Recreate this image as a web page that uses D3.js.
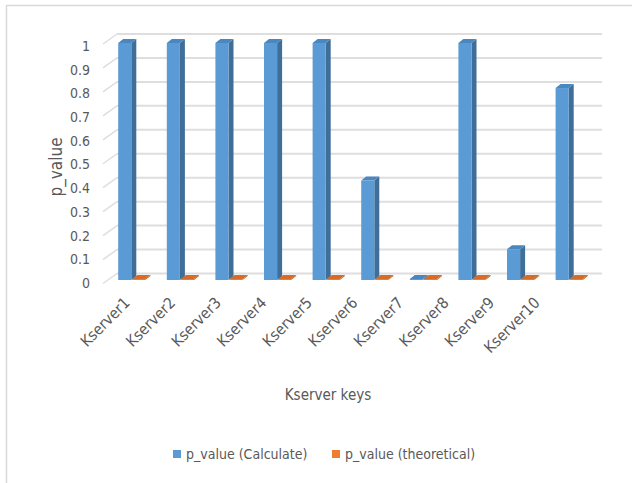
<!DOCTYPE html>
<html>
<head>
<meta charset="utf-8">
<script src="https://cdn.jsdelivr.net/npm/d3@7"></script>
<style>
	body { margin: 0; background: #fff; }
	svg text { font-family: "Liberation Sans Narrow", "DejaVu Sans Condensed", "Open Sans", sans-serif; fill: #595959; }
</style>
</head>
<body>
<div id="chart"></div>
<script>
const categories = ['Kserver1', 'Kserver2', 'Kserver3', 'Kserver4', 'Kserver5',
	'Kserver6', 'Kserver7', 'Kserver8', 'Kserver9', 'Kserver10'];
const calculated = [1, 1, 1, 1, 1, 0.42, 0, 1, 0.13, 0.81];
const theoretical = [0, 0, 0, 0, 0, 0, 0, 0, 0, 0];
const seriesNames = ['p_value (Calculate)', 'p_value (theoretical)'];
const yTicks = [0, 0.1, 0.2, 0.3, 0.4, 0.5, 0.6, 0.7, 0.8, 0.9, 1];

const palette = [
	{ front: '#5b9bd5', side: '#3f6e99', top: '#4a86c0' },
	{ front: '#ed7d31', side: '#b35c1f', top: '#d96c24' }
];

const width = 632, height = 483;
const depthX = 5, depthY = 4;      // bar depth
const wallX = 14, wallY = 10;      // back wall offset

const svg = d3.select('#chart').append('svg')
	.attr('width', width)
	.attr('height', height);

// chart frame (left and top edges only are visible)
svg.append('path')
	.attr('d', 'M6.5,483 L6.5,5.5 L632,5.5')
	.attr('fill', 'none')
	.attr('stroke', '#d9d9d9')
	.attr('stroke-width', 1.5);

const x = d3.scaleBand()
	.domain(categories)
	.range([108, 594])
	.paddingInner(0.42)
	.paddingOuter(0.21);

const xs = d3.scaleBand()
	.domain(seriesNames)
	.range([0, x.bandwidth()]);

const y = d3.scaleLinear().domain([0, 1]).range([280, 43]);
const yBack = d3.scaleLinear().domain([0, 1]).range([273.5, 34]);

// label positions along the front edge of the floor
const xLabel = d3.scalePoint().domain(categories).range([127, 537]);

// gridlines on the back wall + side wall diagonals
const grid = svg.append('g');
yTicks.forEach(t => {
	grid.append('line')
		.attr('x1', 117).attr('x2', 602)
		.attr('y1', yBack(t)).attr('y2', yBack(t))
		.attr('stroke', '#dedede')
		.attr('stroke-width', 2);
	grid.append('line')
		.attr('x1', 117 - wallX).attr('y1', yBack(t) + wallY)
		.attr('x2', 117).attr('y2', yBack(t))
		.attr('stroke', '#dedede')
		.attr('stroke-width', 1.5);
});

// y axis tick labels
svg.append('g').selectAll('text')
	.data(yTicks)
	.enter().append('text')
	.attr('x', 90)
	.attr('y', d => y(d) + 3)
	.attr('dy', '0.35em')
	.attr('text-anchor', 'end')
	.attr('font-size', 14)
	.text(d => d);

svg.append('text')
	.attr('transform', 'translate(56,167) rotate(-90)')
	.attr('text-anchor', 'middle')
	.attr('dy', '0.35em')
	.attr('font-size', 17)
	.text('p_value');

// 3D-ish bars
function drawBar(g, bx, v, w, col) {
	const top = Math.min(y(v), y(0) - 1);
	const bottom = y(0);
	g.append('polygon')
		.attr('points', [[bx + w, top], [bx + w + depthX, top - depthY], [bx + w + depthX, bottom - depthY], [bx + w, bottom]].join(' '))
		.attr('fill', col.side);
	g.append('polygon')
		.attr('points', [[bx, top], [bx + depthX, top - depthY], [bx + w + depthX, top - depthY], [bx + w, top]].join(' '))
		.attr('fill', col.top);
	g.append('rect')
		.attr('x', bx).attr('y', top)
		.attr('width', w).attr('height', bottom - top)
		.attr('fill', col.front);
}

const bars = svg.append('g');
categories.forEach((c, i) => {
	const w = xs.bandwidth() - 1;
	// draw the back (orange) series first so the blue side face is on top
	drawBar(bars, x(c) + xs(seriesNames[1]), theoretical[i], w, palette[1]);
	drawBar(bars, x(c) + xs(seriesNames[0]), calculated[i], w, palette[0]);
});

// category labels
svg.append('g').selectAll('text')
	.data(categories)
	.enter().append('text')
	.attr('transform', d => `translate(${xLabel(d)},300) rotate(-45)`)
	.attr('text-anchor', 'end')
	.attr('dy', '0.35em')
	.attr('font-size', 15.5)
	.text(d => d);

svg.append('text')
	.attr('x', 328)
	.attr('y', 395)
	.attr('dy', '0.35em')
	.attr('text-anchor', 'middle')
	.attr('font-size', 15)
	.text('Kserver keys');

// legend
const legendX = [173, 332];
const legend = svg.append('g').selectAll('g')
	.data(seriesNames)
	.enter().append('g')
	.attr('transform', (d, i) => `translate(${legendX[i]},450)`);

legend.append('rect')
	.attr('width', 8).attr('height', 8)
	.attr('fill', (d, i) => palette[i].front);

legend.append('text')
	.attr('x', 13)
	.attr('y', 4.5)
	.attr('dy', '0.35em')
	.attr('font-size', 14)
	.text(d => d);
</script>
</body>
</html>
